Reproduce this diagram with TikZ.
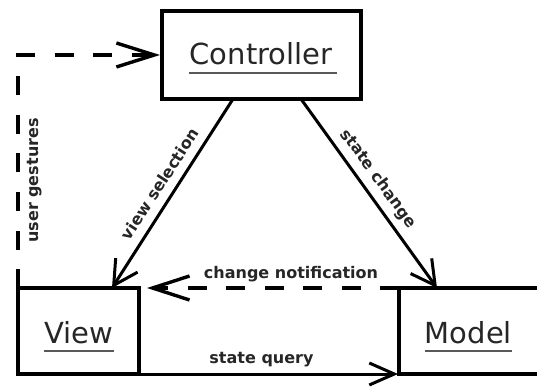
\documentclass[tikz,border=0pt]{standalone}
\usepackage{fontspec}
\setmainfont{DejaVu Sans}
\usetikzlibrary{arrows.meta}
\begin{document}
\begin{tikzpicture}[x=1pt,y=-1pt,
  box/.style={draw, line width=3.2pt, inner sep=0pt, outer sep=0pt},
  title/.style={font=\fontsize{29}{29}\selectfont, text=black!85, inner sep=0pt},
  lab/.style={font=\bfseries\fontsize{16}{16}\selectfont, text=black!85, inner sep=0pt},
  uline/.style={line width=2.4pt, black!65},
  conn/.style={line width=3pt},
  dconn/.style={line width=3.4pt, dash pattern=on 19pt off 19.5pt},
  solidhead/.style={-{Straight Barb[length=24pt,width=26pt]}},
  openhead/.style={-{Straight Barb[length=38pt,width=24pt]}}]
\useasboundingbox (0,0) rectangle (537,387);
\clip (0,0) rectangle (537,387);
% boxes
\node[box, minimum width=199pt, minimum height=88pt] (ctl) at (261.5,55) {};
\node[box, minimum width=121pt, minimum height=86pt] (view) at (78.5,331) {};
\node[box, minimum width=140pt, minimum height=86pt] (model) at (469,331) {};
% box titles
\node[title, anchor=base] (ctltxt) at (261,65) {Controller};
\node[title, anchor=base] (viewtxt) at (79,343) {View};
\node[title, anchor=base] (modeltxt) at (468.5,343) {Model};
\draw[uline] ([yshift=-8pt]ctltxt.base west) -- ([yshift=-8pt,xshift=4pt]ctltxt.base east);
\draw[uline] ([yshift=-8pt]viewtxt.base west) -- ([yshift=-8pt]viewtxt.base east);
\draw[uline] ([yshift=-8pt]modeltxt.base west) -- ([yshift=-8pt]modeltxt.base east);
% connectors
\draw[conn, solidhead] ([xshift=-28.5pt]ctl.south) -- ([xshift=33.5pt]view.north);
\draw[conn, solidhead] ([xshift=39.5pt]ctl.south) -- ([xshift=38pt]model.north west);
\draw[conn, -{Straight Barb[length=25pt,width=22pt]}, shorten >=1pt] (view.south east) -- (model.south west);
\draw[dconn, -{Straight Barb[length=37pt,width=24pt]}, shorten >=8pt] (model.north west) -- (view.north east);
\draw[dconn, openhead, shorten >=2pt] (view.north west) |- (ctl.west);
% connector labels
\node[lab, rotate=57] (vsel) at (160,184) {view selection};
\node[lab, rotate=-54] (schg) at (378,179) {state change};
\node[lab, rotate=90] (ugest) at (34.5,180.5) {user gestures};
\node[lab, anchor=base] (cnot) at (291,278) {change notification};
\node[lab, anchor=base] (squery) at (261.5,363) {state query};
\end{tikzpicture}
\end{document}
